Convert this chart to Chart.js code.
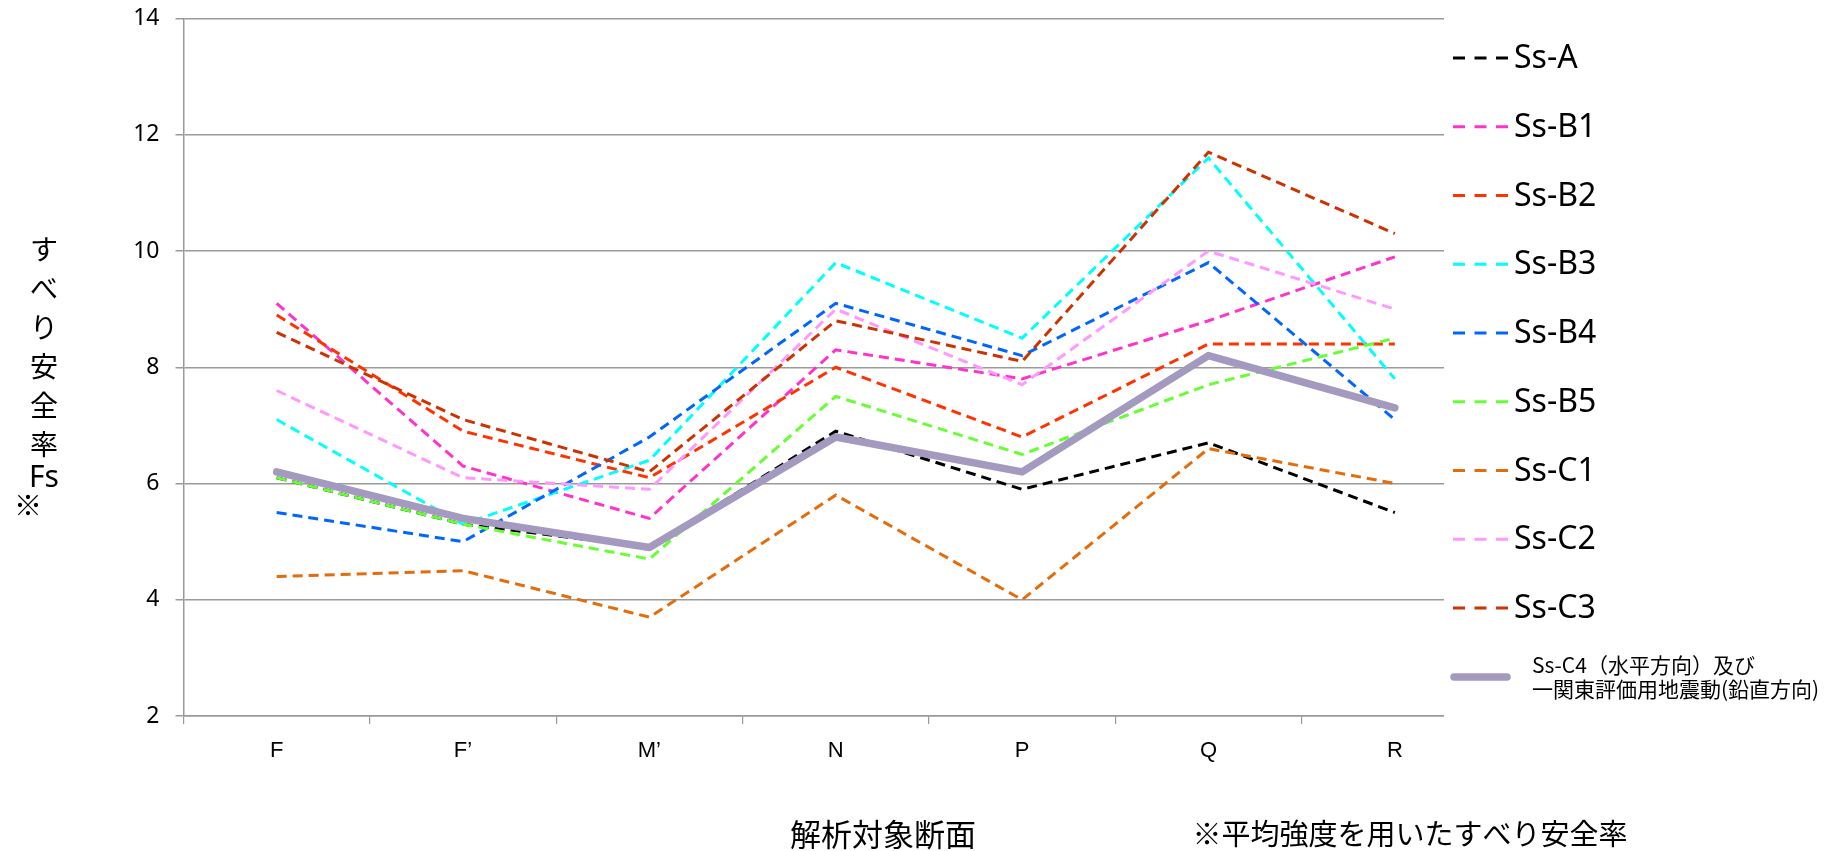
<!DOCTYPE html>
<html>
<head>
<meta charset="utf-8">
<script src="https://cdn.jsdelivr.net/npm/chart.js@4.4.1/dist/chart.umd.min.js"></script>
<style>
  html, body { margin: 0; padding: 0; background: #ffffff; }
  #wrap { position: relative; width: 1826px; height: 851px; }
</style>
</head>
<body>
<div id="wrap"><canvas id="c"></canvas></div>
<script>
// Sections analysed (x categories)
const sections = ['F', 'F\u2019', 'M\u2019', 'N', 'P', 'Q', 'R'];

// Sliding safety factor Fs per ground motion
const ssA  = [6.1, 5.3, 4.9, 6.9, 5.9, 6.7, 5.5];
const ssB1 = [9.1, 6.3, 5.4, 8.3, 7.8, 8.8, 9.9];
const ssB2 = [8.9, 6.9, 6.1, 8.0, 6.8, 8.4, 8.4];
const ssB3 = [7.1, 5.3, 6.4, 9.8, 8.5, 11.6, 7.8];
const ssB4 = [5.5, 5.0, 6.8, 9.1, 8.2, 9.8, 7.1];
const ssB5 = [6.1, 5.3, 4.7, 7.5, 6.5, 7.7, 8.5];
const ssC1 = [4.4, 4.5, 3.7, 5.8, 4.0, 6.6, 6.0];
const ssC2 = [7.6, 6.1, 5.9, 9.0, 7.7, 10.0, 9.0];
const ssC3 = [8.6, 7.1, 6.2, 8.8, 8.1, 11.7, 10.3];
const ssC4 = [6.2, 5.4, 4.9, 6.8, 6.2, 8.2, 7.3];

const seriesNames = ['Ss-A', 'Ss-B1', 'Ss-B2', 'Ss-B3', 'Ss-B4', 'Ss-B5', 'Ss-C1', 'Ss-C2', 'Ss-C3',
                     'Ss-C4\uFF08水平方向\uFF09及び\n一関東評価用地震動(鉛直方向)'];
const seriesValues = [ssA, ssB1, ssB2, ssB3, ssB4, ssB5, ssC1, ssC2, ssC3, ssC4];
const seriesColors = ['#000000', '#FF33CC', '#FF3300', '#00FFFF', '#0066FF', '#66FF33',
                      '#E46C0A', '#FF99FF', '#CC3300', '#A499BE'];

// Y axis range and ticks
const yMin = 2, yMax = 14, yStep = 2;

const GRID = '#9a9a9a';
const LATIN = '"Noto Sans", "Liberation Sans", sans-serif';
const CJK = '"Noto Sans CJK JP", "Noto Sans", sans-serif';

const datasets = seriesValues.map((vals, i) => {
  const solid = i === seriesValues.length - 1;
  return {
    label: seriesNames[i],
    data: vals,
    borderColor: seriesColors[i],
    backgroundColor: seriesColors[i],
    borderWidth: solid ? 7.5 : 3,
    borderDash: solid ? [] : [10, 6],
    borderCapStyle: solid ? 'round' : 'butt',
    borderJoinStyle: solid ? 'round' : 'miter',
    pointRadius: 0,
    pointHoverRadius: 0,
    tension: 0,
    fill: false,
    // later series sit on top of earlier ones
    order: seriesValues.length - 1 - i
  };
});

// Legend box, axis titles and the footnote
const decor = {
  id: 'decor',
  afterDatasetsDraw(chart) {
    const ctx = chart.ctx;
    ctx.save();
    // legend box background covers the right end of the plot
    ctx.fillStyle = '#ffffff';
    ctx.fillRect(1444, 0, 1826 - 1444, 851);

    chart.data.datasets.forEach((ds, i) => {
      const last = i === chart.data.datasets.length - 1;
      ctx.strokeStyle = ds.borderColor;
      if (!last) {
        const y = 58 + i * 68.75;
        ctx.lineWidth = 3;
        ctx.setLineDash([12, 9.5]);
        ctx.lineCap = 'butt';
        ctx.beginPath();
        ctx.moveTo(1453, y);
        ctx.lineTo(1508, y);
        ctx.stroke();
        ctx.setLineDash([]);
        ctx.fillStyle = '#000000';
        ctx.font = '32px ' + LATIN;
        ctx.textAlign = 'left';
        ctx.textBaseline = 'middle';
        ctx.fillText(ds.label, 1514, y + 1);
      } else {
        const y = 677;
        ctx.lineWidth = 7.5;
        ctx.lineCap = 'round';
        ctx.setLineDash([]);
        ctx.beginPath();
        ctx.moveTo(1454, y);
        ctx.lineTo(1507, y);
        ctx.stroke();
        ctx.fillStyle = '#000000';
        ctx.font = '21px ' + CJK;
        ctx.textAlign = 'left';
        ctx.textBaseline = 'middle';
        const lines = ds.label.split('\n');
        ctx.fillText(lines[0], 1532, 665);
        ctx.fillText(lines[1], 1532, 689);
      }
    });
    ctx.restore();
  },
  afterDraw(chart) {
    const ctx = chart.ctx;
    ctx.save();
    ctx.fillStyle = '#000000';
    ctx.textAlign = 'center';
    ctx.textBaseline = 'middle';
    // vertical y-axis title
    ctx.font = '28px ' + CJK;
    const chars = ['す', 'べ', 'り', '安', '全', '率'];
    chars.forEach((ch, k) => ctx.fillText(ch, 44, 249 + k * 39));
    ctx.font = '30px ' + LATIN;
    ctx.fillText('Fs', 44, 478);
    ctx.font = '28px ' + CJK;
    ctx.fillText('※', 28, 505);
    // x-axis title and footnote
    ctx.font = '31px ' + CJK;
    ctx.fillText('解析対象断面', 883, 834);
    ctx.font = '29px ' + CJK;
    ctx.fillText('※平均強度を用いたすべり安全率', 1410, 834);
    ctx.restore();
  }
};

new Chart(document.getElementById('c'), {
  type: 'line',
  data: { labels: sections, datasets },
  options: {
    responsive: true,
    maintainAspectRatio: false,
    animation: false,
    events: [],
    layout: { padding: { top: 18.5, right: 338, left: 0, bottom: 0 } },
    plugins: { legend: { display: false }, tooltip: { enabled: false }, title: { display: false } },
    scales: {
      x: {
        type: 'category',
        offset: true,
        grid: {
          offset: true,
          drawOnChartArea: false,
          drawTicks: true,
          tickLength: 8,
          color: GRID,
          lineWidth: 1.2
        },
        border: { color: GRID, width: 1.5 },
        ticks: {
          color: '#000000',
          font: { family: '"Liberation Sans", Arial, sans-serif', size: 22 },
          padding: 14,
          maxRotation: 0,
          autoSkip: false
        },
        afterFit(scale) {
          scale.height = 135;
          scale.paddingLeft = 0;
          scale.paddingRight = 0;
        }
      },
      y: {
        min: yMin,
        max: yMax,
        ticks: {
          stepSize: yStep,
          color: '#000000',
          font: { family: LATIN, size: 23 },
          padding: 16
        },
        grid: { color: GRID, lineWidth: 1.5, tickLength: 8 },
        border: { color: GRID, width: 1.5 },
        afterFit(scale) {
          scale.width = 183.5;
          scale.paddingTop = 0;
          scale.paddingBottom = 0;
        }
      }
    }
  },
  plugins: [decor]
});
</script>
</body>
</html>
